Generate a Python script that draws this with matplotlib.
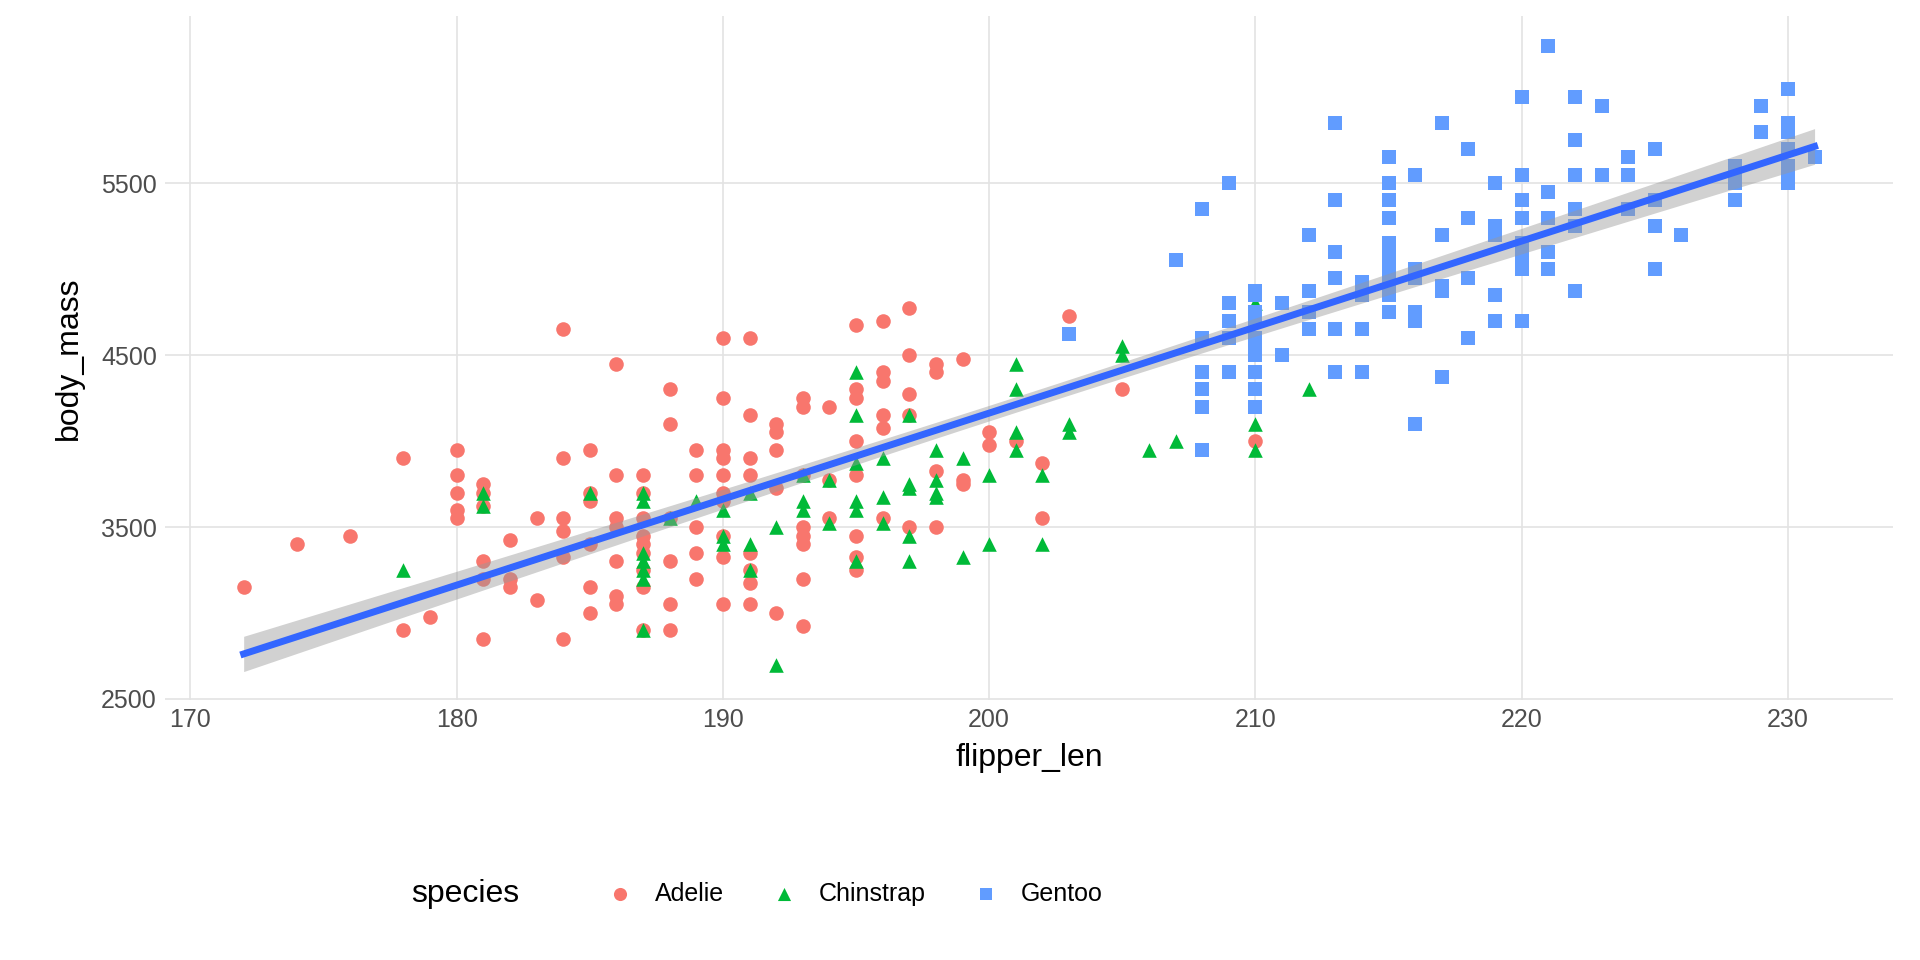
import numpy as np
import matplotlib
matplotlib.use("Agg")
import matplotlib.pyplot as plt
plt.rcParams['font.family'] = ['Liberation Sans', 'DejaVu Sans']

adelie = {172:[3150],174:[3400],176:[3450],178:[3900,2900],179:[2975],
 180:[3950,3800,3700,3600,3550],181:[3750,3700,3625,3300,3200,2850],182:[3425,3200,3150],
 183:[3550,3075],184:[4650,3900,3550,3475,3325,2850],185:[3950,3700,3650,3400,3150,3000],
 186:[4450,3800,3550,3500,3300,3100,3050],187:[3800,3700,3550,3450,3400,3350,3250,3150,2900],
 188:[4300,4100,3550,3300,3050,2900],189:[3950,3800,3500,3350,3200],
 190:[4600,4250,3950,3900,3800,3700,3650,3450,3325,3050],191:[4600,4150,3900,3800,3350,3250,3175,3050],
 192:[4100,4050,3950,3725,3000],193:[4250,4200,3800,3500,3450,3400,3200,2925],194:[4200,3775,3550],
 195:[4675,4300,4250,4000,3800,3450,3325,3250],196:[4700,4400,4350,4150,4075,3550],
 197:[4775,4500,4275,4150,3500],198:[4450,4400,3825,3500],199:[4475,3775,3750],200:[4050,3975],
 201:[4000],202:[3875,3550],203:[4725],205:[4300],210:[4000]}
chinstrap = {178:[3250],181:[3700,3625],185:[3700],187:[3700,3650,3350,3300,3250,3200,2900],188:[3550],
 189:[3650],190:[3600,3450,3400],191:[3700,3400,3250],192:[3500,2700],193:[3800,3650,3600],194:[3775,3525],
 195:[4400,4150,3875,3650,3600,3300],196:[3900,3675,3525],197:[4150,3750,3725,3450,3300],
 198:[3950,3775,3700,3675],199:[3900,3325],200:[3800,3400],201:[4450,4300,4050,3950],202:[3800,3400],
 203:[4100,4050],205:[4550,4500],206:[3950],207:[4000],210:[4800,4100,3950],212:[4300]}
gentoo = {203:[4625],207:[5050],208:[5350,4600,4400,4300,4200,3950],209:[5500,4800,4700,4600,4400],
 210:[4875,4850,4750,4700,4600,4550,4500,4400,4300,4200],211:[4800,4500],212:[5200,4875,4750,4650],
 213:[5850,5400,5100,4950,4650,4400],214:[4925,4850,4650,4400],
 215:[5650,5500,5400,5300,5150,5100,5050,5000,4950,4900,4850,4750],216:[5550,5000,4950,4750,4700,4100],
 217:[5850,5200,4900,4875,4375],218:[5700,5300,4950,4600],219:[5500,5250,5200,4850,4700],
 220:[6000,5550,5400,5300,5150,5100,5050,5000,4700],221:[6300,5450,5300,5100,5000],
 222:[6000,5750,5550,5350,5250,4875],223:[5950,5550],224:[5650,5550,5350],225:[5700,5400,5250,5000],
 226:[5200],228:[5600,5550,5500,5400],229:[5950,5800],230:[6050,5850,5800,5700,5600,5550,5500],231:[5650]}

def flat(d):
    xs, ys = [], []
    for k, v in d.items():
        for y in v:
            xs.append(k); ys.append(y)
    return np.array(xs, float), np.array(ys, float)

fig = plt.figure(figsize=(19.2, 9.6), dpi=100)
ax = fig.add_axes([0.086, 0.271, 0.900, 0.712])
for s in ax.spines.values():
    s.set_visible(False)
ax.set_xlim(169.05, 233.95)
ax.set_ylim(2495, 6470)
ax.set_xticks([170,180,190,200,210,220,230])
ax.set_yticks([2500,3500,4500,5500])
ax.grid(True, color="#E3E3E3", lw=1.2)
ax.set_axisbelow(True)
ax.tick_params(length=0, labelsize=18, labelcolor="#4D4D4D", pad=6)

handles = []
allx, ally = [], []
for d, col, mk, name in [(adelie,"#F8766D","o","Adelie"),(chinstrap,"#00BA38","^","Chinstrap"),(gentoo,"#619CFF","s","Gentoo")]:
    x, y = flat(d)
    allx.append(x); ally.append(y)
    h = ax.scatter(x, y, c=col, marker=mk, s=110 if mk!="s" else 95, linewidths=0, label=name, zorder=2)
    handles.append(h)
X = np.concatenate(allx); Y = np.concatenate(ally)
b1, b0 = np.polyfit(X, Y, 1)
xs = np.linspace(X.min(), X.max(), 100)
yh = b0 + b1*xs
n = len(X); res = Y - (b0 + b1*X); s2 = res @ res/(n-2)
se = np.sqrt(s2*(1/n + (xs-X.mean())**2/((X-X.mean())**2).sum()))
ax.fill_between(xs, yh-1.97*se, yh+1.97*se, color="#999999", alpha=0.45, lw=0, zorder=3)
ax.plot(xs, yh, color="#3366FF", lw=5, zorder=4)

ax.set_xlabel("flipper_len", fontsize=23, labelpad=8)
ax.set_ylabel("body_mass", fontsize=23, labelpad=12)

fig.text(0.214, 0.069, "species", fontsize=23, va="center", ha="left")
fig.legend(handles=handles, loc="center left", bbox_to_anchor=(0.298, 0.069), ncol=3, frameon=False,
           fontsize=18, handletextpad=0.4, columnspacing=1.4, markerscale=0.9)
fig.savefig("out.png")
